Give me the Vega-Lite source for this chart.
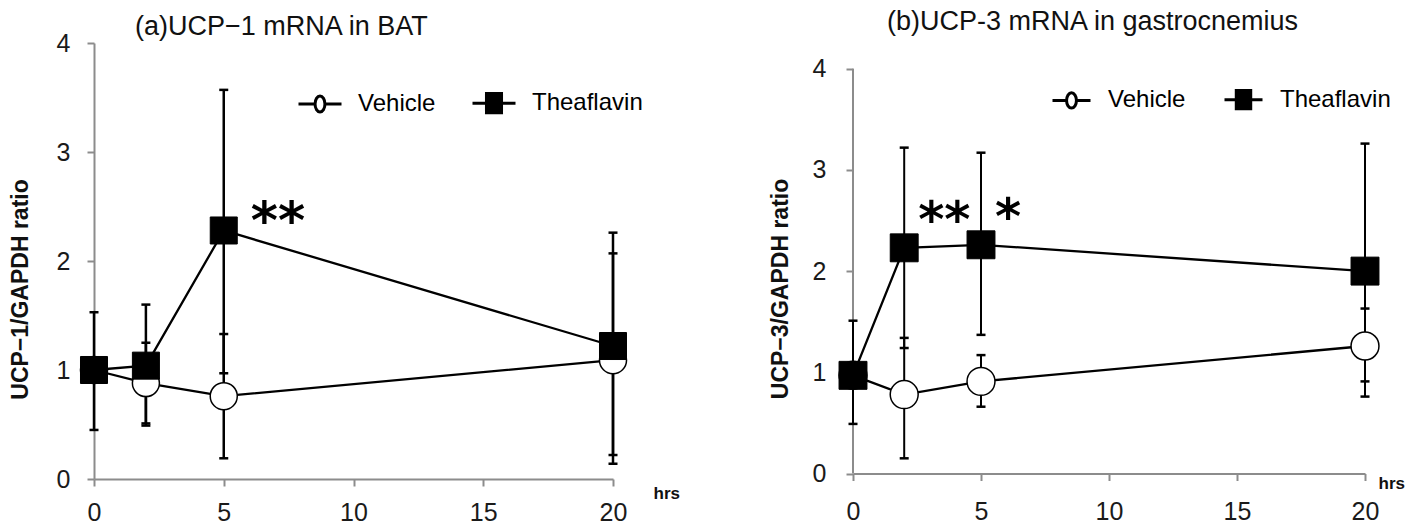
{
  "$schema": "https://vega.github.io/schema/vega-lite/v6.json",
  "padding": {"left": 9, "top": 8, "right": 0, "bottom": 0},
  "spacing": 89,
  "resolve": {"scale": {"shape": "independent", "fill": "independent"}, "legend": {"shape": "independent", "fill": "independent"}},
  "config": {
    "view": {"stroke": null},
    "font": "Liberation Sans",
    "axis": {"domainColor": "#8c8c8c", "domainWidth": 2, "tickColor": "#8c8c8c", "tickWidth": 2, "tickSize": 7, "grid": false, "labelFont": "Liberation Sans", "labelFontSize": 25, "labelColor": "#1a1a1a", "titleFont": "Liberation Sans", "titleFontWeight": "bold", "titleColor": "#111111"},
    "title": {"font": "Liberation Sans", "fontWeight": "normal", "fontSize": 27, "color": "#111111", "anchor": "start", "frame": "group"}
  },
  "datasets": {
    "d": [
      {"panel": "a", "group": "Vehicle", "t": 0, "value": 1.0, "low": null, "high": null},
      {"panel": "a", "group": "Theaflavin", "t": 0, "value": 1.0, "low": 0.45, "high": 1.53},
      {"panel": "a", "group": "Vehicle", "t": 2, "value": 0.88, "low": 0.51, "high": 1.25},
      {"panel": "a", "group": "Theaflavin", "t": 2, "value": 1.04, "low": 0.49, "high": 1.6},
      {"panel": "a", "group": "Vehicle", "t": 5, "value": 0.76, "low": 0.19, "high": 1.33},
      {"panel": "a", "group": "Theaflavin", "t": 5, "value": 2.28, "low": 0.97, "high": 3.57, "sig": "**"},
      {"panel": "a", "group": "Vehicle", "t": 20, "value": 1.09, "low": 0.14, "high": 2.07},
      {"panel": "a", "group": "Theaflavin", "t": 20, "value": 1.22, "low": 0.22, "high": 2.26},
      {"panel": "b", "group": "Vehicle", "t": 0, "value": 0.97, "low": null, "high": null},
      {"panel": "b", "group": "Theaflavin", "t": 0, "value": 0.97, "low": 0.49, "high": 1.51},
      {"panel": "b", "group": "Vehicle", "t": 2, "value": 0.78, "low": 0.15, "high": 1.34},
      {"panel": "b", "group": "Theaflavin", "t": 2, "value": 2.23, "low": 1.24, "high": 3.22, "sig": "**"},
      {"panel": "b", "group": "Vehicle", "t": 5, "value": 0.91, "low": 0.66, "high": 1.17},
      {"panel": "b", "group": "Theaflavin", "t": 5, "value": 2.26, "low": 1.37, "high": 3.17, "sig": "*"},
      {"panel": "b", "group": "Vehicle", "t": 20, "value": 1.26, "low": 0.91, "high": 1.63},
      {"panel": "b", "group": "Theaflavin", "t": 20, "value": 2.0, "low": 0.76, "high": 3.26}
    ]
  },
  "hconcat": [
    {
      "width": 519,
      "height": 436,
      "title": {"text": "(a)UCP−1 mRNA in BAT", "dx": 41, "offset": -9.5},
      "data": {"name": "d"},
      "transform": [{"filter": "datum.panel === 'a'"}],
      "encoding": {
        "x": {"field": "t", "type": "quantitative", "scale": {"domain": [0, 20], "nice": false, "zero": false},
          "axis": {"values": [0, 5, 10, 15, 20], "title": "hrs", "titleX": 559, "titleY": 14, "titleAlign": "left", "titleBaseline": "middle", "titleFontSize": 17, "labelPadding": 14, "labelFlush": false}}
      },
      "layer": [
        {
          "mark": {"type": "line", "color": "black", "strokeWidth": 2.3},
          "encoding": {
            "y": {"field": "value", "type": "quantitative", "scale": {"domain": [0, 4], "nice": false},
              "axis": {"values": [0, 1, 2, 3, 4], "format": "d", "title": "UCP−1/GAPDH ratio", "titleX": -74, "titleY": 246, "titleAngle": -90, "titleAlign": "center", "titleBaseline": "middle", "titleFontSize": 23, "labelPadding": 17}},
            "detail": {"field": "group"},
            "order": {"field": "t"}
          }
        },
        {
          "transform": [{"filter": "datum.low != null"}],
          "mark": {"type": "rule", "color": "black", "strokeWidth": 2.5},
          "encoding": {"y": {"field": "low", "type": "quantitative"}, "y2": {"field": "high"}}
        },
        {
          "transform": [{"filter": "datum.low != null"}],
          "mark": {"type": "rule", "color": "black", "strokeWidth": 2.5, "xOffset": -4.5, "x2Offset": 4.5},
          "encoding": {"x2": {"field": "t"}, "y": {"field": "low", "type": "quantitative"}}
        },
        {
          "transform": [{"filter": "datum.low != null"}],
          "mark": {"type": "rule", "color": "black", "strokeWidth": 2.5, "xOffset": -4.5, "x2Offset": 4.5},
          "encoding": {"x2": {"field": "t"}, "y": {"field": "high", "type": "quantitative"}}
        },
        {
          "transform": [{"filter": "datum.group === 'Vehicle'"}],
          "mark": {"type": "point", "shape": "circle", "filled": true, "fill": "white", "stroke": "black", "strokeWidth": 1.5, "size": 730, "opacity": 1},
          "encoding": {"y": {"field": "value", "type": "quantitative"}}
        },
        {
          "transform": [{"filter": "datum.group === 'Theaflavin'"}],
          "mark": {"type": "point", "shape": "square", "filled": true, "fill": "black", "stroke": "black", "strokeWidth": 1, "size": 730, "opacity": 1},
          "encoding": {"y": {"field": "value", "type": "quantitative"}}
        },
        {
          "mark": {"type": "point", "filled": true, "opacity": 0, "stroke": "black"},
          "encoding": {
            "y": {"field": "value", "type": "quantitative"},
            "shape": {"field": "group", "type": "nominal",
              "scale": {"domain": ["Vehicle", "Theaflavin"], "range": ["M-1,0L-0.23,0M0.23,0L1,0M-0.23,0A0.23,0.37,0,1,0,0.23,0A0.23,0.37,0,1,0,-0.23,0Z", "M-1,0L-0.35,0M0.35,0L1,0M-0.35,-0.45L0.35,-0.45L0.35,0.45L-0.35,0.45Z"]},
              "legend": {"orient": "none", "legendX": 203, "legendY": 37, "direction": "horizontal", "title": null, "symbolSize": 1849, "symbolStrokeWidth": 3, "symbolStrokeColor": "black", "symbolOpacity": 1, "labelFontSize": 24, "labelFont": "Liberation Sans", "labelColor": "black", "labelOffset": 15, "columnPadding": 30, "padding": 0,
                "encode": {"symbols": {"update": {"stroke": {"value": "black"}, "strokeWidth": {"value": 3}, "opacity": {"value": 1}}}}}},
            "fill": {"field": "group", "type": "nominal",
              "scale": {"domain": ["Vehicle", "Theaflavin"], "range": ["white", "black"]},
              "legend": {"orient": "none", "legendX": 203, "legendY": 37, "direction": "horizontal", "title": null, "symbolSize": 1849, "symbolStrokeWidth": 3, "symbolStrokeColor": "black", "symbolOpacity": 1, "labelFontSize": 24, "labelFont": "Liberation Sans", "labelColor": "black", "labelOffset": 15, "columnPadding": 30, "padding": 0,
                "encode": {"symbols": {"update": {"stroke": {"value": "black"}, "strokeWidth": {"value": 3}, "opacity": {"value": 1}}}}}}
          }
        },
        {
          "transform": [{"filter": "datum.sig != null"}],
          "mark": {"type": "text", "font": "DejaVu Sans", "fontWeight": "bold", "fontSize": 52, "align": "left", "baseline": "middle", "dx": 27, "dy": -8, "color": "black"},
          "encoding": {"y": {"field": "value", "type": "quantitative"}, "text": {"field": "sig"}}
        }
      ]
    },
    {
      "width": 512,
      "height": 430.5,
      "title": {"text": "(b)UCP-3 mRNA in gastrocnemius", "dx": 34, "offset": 7},
      "data": {"name": "d"},
      "transform": [{"filter": "datum.panel === 'b'"}],
      "encoding": {
        "x": {"field": "t", "type": "quantitative", "scale": {"domain": [0, 20], "nice": false, "zero": false},
          "axis": {"values": [0, 5, 10, 15, 20], "title": "hrs", "titleX": 525, "titleY": 10, "titleAlign": "left", "titleBaseline": "middle", "titleFontSize": 17, "labelPadding": 19, "labelFlush": false}}
      },
      "layer": [
        {
          "mark": {"type": "line", "color": "black", "strokeWidth": 2.3},
          "encoding": {
            "y": {"field": "value", "type": "quantitative", "scale": {"domain": [0, 4.254], "nice": false},
              "axis": {"values": [0, 1, 2, 3, 4], "format": "d", "domain": false, "title": "UCP−3/GAPDH ratio", "titleX": -73, "titleY": 245.5, "titleAngle": -90, "titleAlign": "center", "titleBaseline": "middle", "titleFontSize": 23, "labelPadding": 20}},
            "detail": {"field": "group"},
            "order": {"field": "t"}
          }
        },
        {
          "transform": [{"filter": "datum.group === 'Vehicle' && datum.t === 0"}],
          "mark": {"type": "rule", "color": "#8c8c8c", "strokeWidth": 2},
          "encoding": {"x": {"datum": 0, "type": "quantitative"}, "y": {"datum": 0, "type": "quantitative"}, "y2": {"datum": 4}}
        },
        {
          "transform": [{"filter": "datum.low != null"}],
          "mark": {"type": "rule", "color": "black", "strokeWidth": 2},
          "encoding": {"y": {"field": "low", "type": "quantitative"}, "y2": {"field": "high"}}
        },
        {
          "transform": [{"filter": "datum.low != null"}],
          "mark": {"type": "rule", "color": "black", "strokeWidth": 2.5, "xOffset": -4.5, "x2Offset": 4.5},
          "encoding": {"x2": {"field": "t"}, "y": {"field": "low", "type": "quantitative"}}
        },
        {
          "transform": [{"filter": "datum.low != null"}],
          "mark": {"type": "rule", "color": "black", "strokeWidth": 2.5, "xOffset": -4.5, "x2Offset": 4.5},
          "encoding": {"x2": {"field": "t"}, "y": {"field": "high", "type": "quantitative"}}
        },
        {
          "transform": [{"filter": "datum.group === 'Vehicle'"}],
          "mark": {"type": "point", "shape": "circle", "filled": true, "fill": "white", "stroke": "black", "strokeWidth": 1.5, "size": 780, "opacity": 1},
          "encoding": {"y": {"field": "value", "type": "quantitative"}}
        },
        {
          "transform": [{"filter": "datum.group === 'Theaflavin'"}],
          "mark": {"type": "point", "shape": "square", "filled": true, "fill": "black", "stroke": "black", "strokeWidth": 1, "size": 780, "opacity": 1},
          "encoding": {"y": {"field": "value", "type": "quantitative"}}
        },
        {
          "mark": {"type": "point", "filled": true, "opacity": 0, "stroke": "black"},
          "encoding": {
            "y": {"field": "value", "type": "quantitative"},
            "shape": {"field": "group", "type": "nominal",
              "scale": {"domain": ["Vehicle", "Theaflavin"], "range": ["M-1,0L-0.26,0M0.26,0L1,0M-0.26,0A0.26,0.4,0,1,0,0.26,0A0.26,0.4,0,1,0,-0.26,0Z", "M-1,0L-0.38,0M0.38,0L1,0M-0.38,-0.48L0.38,-0.48L0.38,0.48L-0.38,0.48Z"]},
              "legend": {"orient": "none", "legendX": 198, "legendY": 36, "direction": "horizontal", "title": null, "symbolSize": 1444, "symbolStrokeWidth": 3, "symbolStrokeColor": "black", "symbolOpacity": 1, "labelFontSize": 24, "labelFont": "Liberation Sans", "labelColor": "black", "labelOffset": 16, "columnPadding": 32, "padding": 0,
                "encode": {"symbols": {"update": {"stroke": {"value": "black"}, "strokeWidth": {"value": 3}, "opacity": {"value": 1}}}}}},
            "fill": {"field": "group", "type": "nominal",
              "scale": {"domain": ["Vehicle", "Theaflavin"], "range": ["white", "black"]},
              "legend": {"orient": "none", "legendX": 198, "legendY": 36, "direction": "horizontal", "title": null, "symbolSize": 1444, "symbolStrokeWidth": 3, "symbolStrokeColor": "black", "symbolOpacity": 1, "labelFontSize": 24, "labelFont": "Liberation Sans", "labelColor": "black", "labelOffset": 16, "columnPadding": 32, "padding": 0,
                "encode": {"symbols": {"update": {"stroke": {"value": "black"}, "strokeWidth": {"value": 3}, "opacity": {"value": 1}}}}}}
          }
        },
        {
          "transform": [{"filter": "datum.sig != null"}],
          "mark": {"type": "text", "font": "DejaVu Sans", "fontWeight": "bold", "fontSize": 50, "align": "left", "baseline": "middle", "dx": 14, "dy": -26, "color": "black"},
          "encoding": {"y": {"field": "value", "type": "quantitative"}, "text": {"field": "sig"}}
        }
      ]
    }
  ]
}
